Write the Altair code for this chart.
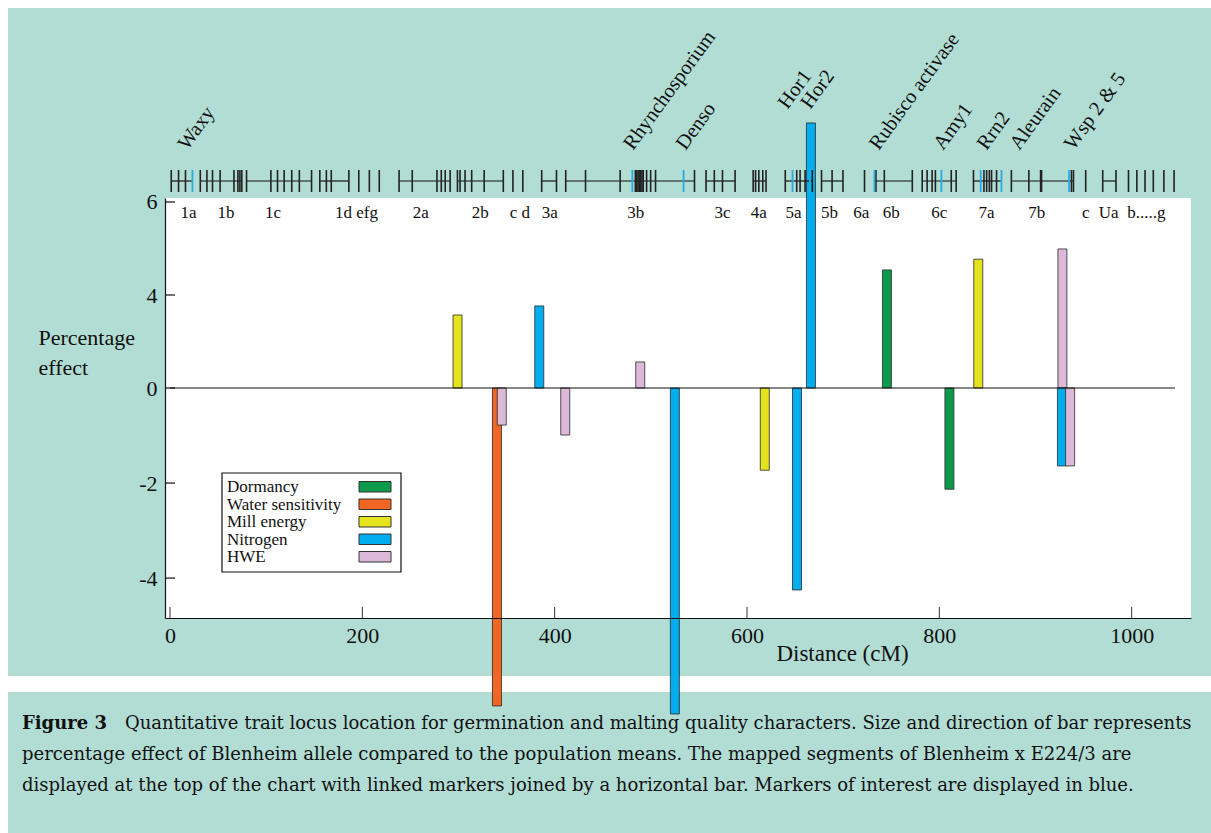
import altair as alt
import pandas as pd

FONT = "Liberation Serif"
CAPTION_FONT = "DejaVu Serif"
INK = "#111111"
MINT = "#b2ddd4"
MARKER_BLUE = "#29abe2"

# ---- QTL effects: percentage effect of the Blenheim allele ----
trait_names = ["Dormancy", "Water sensitivity", "Mill energy", "Nitrogen", "HWE"]
trait_colors = ["#0e9a4c", "#f26522", "#e5e31b", "#00adef", "#dcb9d9"]

qtl_trait = ["Mill energy", "Water sensitivity", "HWE", "Nitrogen", "HWE", "HWE",
             "Nitrogen", "Mill energy", "Nitrogen", "Nitrogen", "Dormancy", "Dormancy",
             "Mill energy", "HWE", "Nitrogen", "HWE"]
qtl_position = [299, 340, 345, 384, 411, 489, 525, 618.5, 652, 666.5, 745.5, 810.5,
                840.5, 928, 927.5, 936]
qtl_effect = [3.14, -6.69, -0.78, 3.53, -0.99, 1.12, -6.86, -1.73, -4.25, 7.7, 4.54,
              -2.13, 4.77, 4.99, -1.64, -1.64]

# ---- Mapped segments of Blenheim x E224/3 (marker positions, cM) ----
map_segments = [
    [1.3, 8.9, 16.1, 23.3],
    [31.5, 38.4, 44.2, 52.1, 66.5, 70.6, 72.7, 74.7],
    [79.6, 104.9, 111.8, 118.7, 126.6, 134.5, 147.2],
    [155.8, 162.6, 167.7, 186.0],
    [196.3], [207.3], [217.6],
    [238.2, 251.9, 277.6, 282.1, 286.2, 291.3],
    [298.9, 301.6, 306.8, 313.7, 326.7, 346.6],
    [356.6], [366.9],
    [386.5, 401.9],
    [411.5, 432.1, 468.1, 480.8, 483.9, 485.3, 486.7, 488.0, 489.4, 490.8, 492.1,
     495.6, 499.8, 504.9, 534.0, 545.4],
    [557.4, 566.0, 574.5, 587.6],
    [606.4, 608.9, 612.3, 616.4, 619.8],
    [639.8, 647.3, 651.7, 655.2, 660.4, 665.5, 667.9],
    [677.5, 688.5, 699.8],
    [722.2],
    [732.5, 734.1, 742.8, 771.9],
    [782.2, 787.3, 792.5, 795.9, 802.1, 812.4, 817.5],
    [835.5, 843.0, 846.4, 849.2, 852.0, 854.3, 859.5, 864.6],
    [874.9, 893.1, 905.3, 906.3, 934.9, 937.4, 939.5],
    [952.2],
    [969.9, 983.7],
    [996.7], [1005.4], [1013.9], [1022.5], [1033.5], [1044.1],
]
blue_markers = [23.3, 480.8, 534.0, 647.3, 665.5, 732.5, 802.1, 843.0, 864.6, 934.9]

segment_names = ["1a", "1b", "1c", "1d efg", "2a", "2b", "c d", "3a", "3b", "3c", "4a",
                 "5a", "5b", "6a", "6b", "6c", "7a", "7b", "c", "Ua", "b.....g"]
segment_label_pos = [19.2, 58.3, 107.2, 193.9, 260.8, 322.6, 363.9, 395.0, 484.4, 574.5,
                     612.3, 648.3, 685.7, 718.7, 750.1, 800.0, 849.1, 901.2, 952.2,
                     976.1, 1015.2]

gene_names = ["Waxy", "Rhynchosporium", "Denso", "Hor1", "Hor2", "Rubisco activase",
              "Amy1", "Rrn2", "Aleurain", "Wsp 2 & 5"]
gene_label_pos = [18.1, 481.5, 536.1, 642.2, 665.9, 736.9, 803.8, 849.1, 883.1, 939.8]
raised_genes = ["Hor1", "Hor2"]

y_ticks = [6, 4, 0, -2, -4]
x_ticks = [0, 200, 400, 600, 800, 1000]

caption_head = "Figure 3"
caption_first = ("Quantitative trait locus location for germination and malting quality "
                 "characters.  Size and direction of bar represents")
caption_lines = [
    "percentage effect of Blenheim allele compared to the population means.  "
    "The mapped segments of Blenheim x E224/3 are",
    "displayed at the top of the chart with linked markers joined by a horizontal bar.  "
    "Markers of interest are displayed in blue.",
]

# ---- tables ----
qtl_df = pd.DataFrame({"trait": qtl_trait, "position": qtl_position, "effect": qtl_effect})

marker_rows, link_rows = [], []
for seg in map_segments:
    for p in seg:
        marker_rows.append({"pos": p, "blue": p in blue_markers})
    if len(seg) > 1:
        link_rows.append({"pos": min(seg), "end": max(seg)})
markers_df = pd.DataFrame(marker_rows)
links_df = pd.DataFrame(link_rows)
seg_df = pd.DataFrame({"name": segment_names, "pos": segment_label_pos})
gene_df = pd.DataFrame({"name": gene_names, "pos": gene_label_pos,
                        "raised": [g in raised_genes for g in gene_names]})
ytick_df = pd.DataFrame({"tick": y_ticks})
xtick_df = pd.DataFrame({"pos": x_ticks})

W, H = 1026, 420
x_scale = alt.Scale(domain=[0, 1056.5], nice=False, zero=False)
# the effect axis is drawn with uneven spacing above zero
y_scale = alt.Scale(domain=[-4.84, 0, 4, 6.086], range=[H, 190, 97, 0], nice=False, zero=False)

x_axis = alt.Axis(values=x_ticks, ticks=False, grid=False, domainColor=INK, domainWidth=1.2,
                  labelFont=FONT, labelFontSize=22, labelColor=INK, labelPadding=7,
                  labelExpr="'' + datum.value",
                  title="Distance (cM)", titleFont=FONT, titleFontSize=23,
                  titleFontWeight="normal", titleColor=INK, titleX=677, titleY=35,
                  titleAlign="center", titleBaseline="middle", zindex=2)
y_axis = alt.Axis(values=y_ticks, ticks=False, grid=False, domainColor=INK, domainWidth=1.2,
                  labelFont=FONT, labelFontSize=22, labelColor=INK, labelPadding=8,
                  labelExpr="'' + datum.value",
                  title=["Percentage", "effect"], titleFont=FONT, titleFontSize=22,
                  titleFontWeight="normal", titleColor=INK, titleAngle=0, titleAlign="left",
                  titleBaseline="alphabetic", titleX=-127, titleY=146, titleLineHeight=30,
                  zindex=2)


def X(field):
    return alt.X(field, scale=x_scale, axis=x_axis)


def Y(field):
    return alt.Y(field, scale=y_scale, axis=y_axis)


blank = alt.Data(values=[{"k": 0}])


def box(x0, x1, y0, y1, **kw):
    return alt.Chart(blank).mark_rect(**kw).encode(
        x=alt.value(x0), x2=alt.value(x1), y=alt.value(y0), y2=alt.value(y1))


backgrounds = [
    box(-157, W + 20, -190, 478, color=MINT),
    box(-157, W + 20, 494, 640, color=MINT),
    box(0, W, 0, H, color="white"),
]

bars = alt.Chart(qtl_df).mark_bar(size=9, stroke="#2a2a2a", strokeWidth=0.8).encode(
    x=X("position:Q"),
    y=alt.Y("effect:Q", scale=y_scale, axis=y_axis, stack=None),
    y2=alt.datum(0),
    color=alt.Color("trait:N", scale=alt.Scale(domain=trait_names, range=trait_colors),
                    legend=None),
)

# marker track above the plot
links = alt.Chart(links_df).mark_rule(color=INK, strokeWidth=1.2).encode(
    x=X("pos:Q"), x2="end:Q", y=alt.value(-17))
plain_ticks = alt.Chart(markers_df).transform_filter("!datum.blue").mark_rule(
    color="#222222", strokeWidth=1.6).encode(
    x=X("pos:Q"), y=alt.value(-28), y2=alt.value(-6))
blue_ticks = alt.Chart(markers_df).transform_filter("datum.blue").mark_rule(
    color=MARKER_BLUE, strokeWidth=1.8).encode(
    x=X("pos:Q"), y=alt.value(-28), y2=alt.value(-6))

seg_labels = alt.Chart(seg_df).mark_text(font=FONT, fontSize=17, color=INK,
                                         baseline="middle").encode(
    x=X("pos:Q"), y=alt.value(15), text="name:N")

gene_common = dict(font=FONT, fontSize=20.5, color=INK, angle=306, align="left",
                   baseline="alphabetic")
gene_low = alt.Chart(gene_df).transform_filter("!datum.raised").mark_text(**gene_common).encode(
    x=X("pos:Q"), y=alt.value(-47), text="name:N")
gene_high = alt.Chart(gene_df).transform_filter("datum.raised").mark_text(**gene_common).encode(
    x=X("pos:Q"), y=alt.value(-88), text="name:N")

# zero line and inward-pointing ticks
zero_df = pd.DataFrame({"pos": [0], "end": [1045], "tick": [0]})
zero_line = alt.Chart(zero_df).mark_rule(color=INK, strokeWidth=1.2).encode(
    x=X("pos:Q"), x2="end:Q", y=Y("tick:Q"))
y_tick_marks = alt.Chart(ytick_df).mark_rule(color=INK, strokeWidth=1.2).encode(
    y=Y("tick:Q"), x=alt.value(0), x2=alt.value(10))
x_tick_marks = alt.Chart(xtick_df).mark_rule(color="#333333", strokeWidth=1).encode(
    x=X("pos:Q"), y=alt.value(H - 11), y2=alt.value(H))

# legend
legend_layers = [box(57, 236, 275, 374, fill="white", stroke=INK, strokeWidth=1.2)]
for i, (name, col) in enumerate(zip(trait_names, trait_colors)):
    legend_layers.append(
        alt.Chart(blank).mark_text(font=FONT, fontSize=17, color=INK, align="left",
                                   baseline="alphabetic", text=name).encode(
            x=alt.value(62), y=alt.value(294 + 17.5 * i)))
    legend_layers.append(
        box(194, 226, 283.5 + 17.5 * i, 294 + 17.5 * i, color=col, stroke="#333333",
            strokeWidth=1))

# caption
CAPTION_SIZE = 18
caption_layers = [
    alt.Chart(blank).mark_text(font=CAPTION_FONT, fontSize=CAPTION_SIZE, fontWeight="bold",
                               color=INK, align="left", baseline="middle",
                               text=caption_head).encode(
        x=alt.value(-143), y=alt.value(526)),
    alt.Chart(blank).mark_text(font=CAPTION_FONT, fontSize=CAPTION_SIZE, color=INK,
                               align="left", baseline="middle", text=caption_first).encode(
        x=alt.value(-40), y=alt.value(526)),
]
for i, line in enumerate(caption_lines):
    caption_layers.append(
        alt.Chart(blank).mark_text(font=CAPTION_FONT, fontSize=CAPTION_SIZE, color=INK,
                                   align="left", baseline="middle", text=line).encode(
            x=alt.value(-143), y=alt.value(557 + 31 * i)))

chart = alt.layer(
    *backgrounds, bars, links, plain_ticks, blue_ticks, seg_labels, gene_low, gene_high,
    zero_line, y_tick_marks, x_tick_marks, *legend_layers, *caption_layers,
).properties(
    width=W, height=H,
    padding={"left": 165, "top": 198, "right": 20, "bottom": 215},
    autosize=alt.AutoSizeParams(type="none"),
    background="white",
).configure_view(stroke=None)

chart.save("out.html", embed_options={"renderer": "svg", "actions": False})
